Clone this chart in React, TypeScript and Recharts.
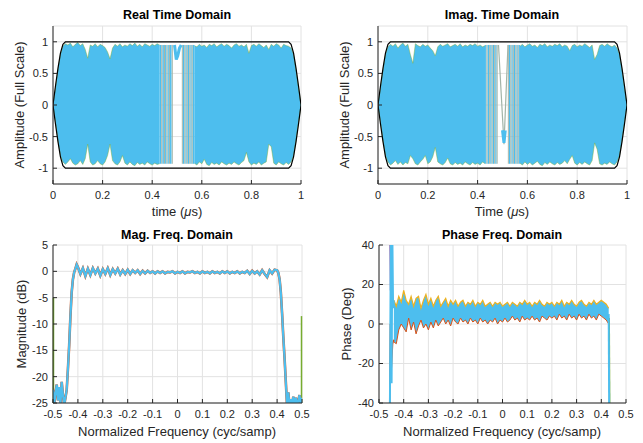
import React from 'react';
import { ComposedChart, Area, Line, XAxis, YAxis, CartesianGrid, ReferenceArea, ReferenceLine } from 'recharts';

const FONT = '"Liberation Sans", Arial, Helvetica, sans-serif';
const AX = '#262626';
const GRID = '#e2e2e2';
const BLUE = '#4DBEEE';
const ORANGE = '#D95319';
const YELLOW = '#EDB120';
const PURPLE = '#7E2F8E';
const GREEN = '#77AC30';
const STRIPE = '#a2b4a8';

// ---- time domain (µs) ----
const timeUs = [
  0, 0.01, 0.02, 0.03, 0.04, 0.05, 0.06, 0.07, 0.08, 0.09, 0.1, 0.11, 0.12, 0.13, 0.14, 0.15, 0.16, 0.17, 0.18, 0.19,
  0.2, 0.21, 0.22, 0.23, 0.24, 0.25, 0.26, 0.27, 0.28, 0.29, 0.3, 0.31, 0.32, 0.33, 0.34, 0.35, 0.36, 0.37, 0.38, 0.39,
  0.4, 0.41, 0.42, 0.43, 0.44, 0.45, 0.46, 0.47, 0.48, 0.49, 0.5, 0.51, 0.52, 0.53, 0.54, 0.55, 0.56, 0.57, 0.58, 0.59,
  0.6, 0.61, 0.62, 0.63, 0.64, 0.65, 0.66, 0.67, 0.68, 0.69, 0.7, 0.71, 0.72, 0.73, 0.74, 0.75, 0.76, 0.77, 0.78, 0.79,
  0.8, 0.81, 0.82, 0.83, 0.84, 0.85, 0.86, 0.87, 0.88, 0.89, 0.9, 0.91, 0.92, 0.93, 0.94, 0.95, 0.96, 0.97, 0.98, 0.99, 1,
];
const N = null;
const realHi = [
  0, 0.27, 0.55, 0.8, 0.93, 0.97, 0.95, 0.98, 0.92, 0.96, 0.99, 0.94, 0.97, 0.88, 0.74, 0.95, 0.93, 0.97, 0.92, 0.96,
  0.94, 0.91, 0.84, 0.73, 0.9, 0.96, 0.93, 0.97, 0.92, 0.95, 0.93, 0.97, 0.94, 0.98, 0.93, 0.96, 0.92, 0.97, 0.95, 0.93,
  0.96, 0.94, 0.97, 0.95, N, N, N, N, N, N, N, N, N, N, N, N, N, 0.94, 0.92, 0.96,
  0.93, 0.95, 0.91, 0.96, 0.94, 0.97, 0.92, 0.95, 0.97, 0.93, 0.96, 0.94, 0.9, 0.95, 0.97, 0.93, 0.95, 0.92, 0.96, 0.82,
  0.94, 0.96, 0.93, 0.97, 0.94, 0.91, 0.95, 0.88, 0.96, 0.93, 0.97, 0.95, 0.9, 0.96, 0.94, 0.93, 0.9, 0.8, 0.55, 0.27, 0,
];
const realLo = [
  0, -0.27, -0.55, -0.8, -0.9, -0.94, -0.9, -0.85, -0.92, -0.95, -0.93, -0.88, -0.94, -0.85, -0.62, -0.9, -0.95, -0.93, -0.88, -0.93,
  -0.95, -0.9, -0.8, -0.62, -0.88, -0.93, -0.95, -0.9, -0.8, -0.92, -0.95, -0.9, -0.94, -0.96, -0.91, -0.94, -0.92, -0.95, -0.9, -0.93,
  -0.95, -0.92, -0.94, -0.93, N, N, N, N, N, N, N, N, N, N, N, N, N, -0.92, -0.95, -0.9,
  -0.93, -0.86, -0.94, -0.96, -0.91, -0.94, -0.92, -0.95, -0.9, -0.93, -0.95, -0.92, -0.94, -0.9, -0.93, -0.95, -0.91, -0.88, -0.75, -0.9,
  -0.95, -0.92, -0.94, -0.9, -0.95, -0.92, -0.9, -0.62, -0.66, -0.92, -0.95, -0.9, -0.93, -0.95, -0.91, -0.94, -0.9, -0.8, -0.55, -0.27, 0,
];
const imagHi = [
  0, 0.27, 0.55, 0.8, 0.92, 0.96, 0.93, 0.97, 0.9, 0.95, 0.98, 0.93, 0.96, 0.8, 0.66, 0.97, 0.94, 0.92, 0.96, 0.93,
  0.95, 0.9, 0.86, 0.78, 0.92, 0.96, 0.93, 0.95, 0.97, 0.92, 0.94, 0.96, 0.93, 0.97, 0.92, 0.95, 0.93, 0.96, 0.94, 0.97,
  0.93, 0.95, 0.92, 0.94, N, N, N, N, N, N, N, N, N, N, N, N, N, 0.93, 0.96, 0.92,
  0.95, 0.97, 0.93, 0.95, 0.91, 0.96, 0.94, 0.97, 0.92, 0.95, 0.93, 0.96, 0.94, 0.97, 0.92, 0.95, 0.93, 0.86, 0.94, 0.96,
  0.92, 0.95, 0.93, 0.97, 0.94, 0.91, 0.95, 0.72, 0.8, 0.94, 0.96, 0.93, 0.97, 0.94, 0.92, 0.95, 0.9, 0.8, 0.55, 0.27, 0,
];
const imagLo = [
  0, -0.27, -0.55, -0.8, -0.9, -0.95, -0.92, -0.88, -0.94, -0.9, -0.95, -0.91, -0.93, -0.8, -0.85, -0.93, -0.95, -0.9, -0.86, -0.8,
  -0.93, -0.9, -0.82, -0.67, -0.9, -0.93, -0.95, -0.91, -0.84, -0.93, -0.95, -0.91, -0.94, -0.92, -0.95, -0.9, -0.93, -0.95, -0.91, -0.94,
  -0.92, -0.95, -0.9, -0.93, N, N, N, N, N, N, N, N, N, N, N, N, N, -0.92, -0.95, -0.9,
  -0.94, -0.91, -0.95, -0.92, -0.89, -0.94, -0.96, -0.91, -0.94, -0.9, -0.93, -0.95, -0.91, -0.94, -0.92, -0.88, -0.93, -0.86, -0.8, -0.92,
  -0.95, -0.91, -0.94, -0.9, -0.93, -0.95, -0.88, -0.6, -0.7, -0.93, -0.95, -0.92, -0.94, -0.9, -0.93, -0.95, -0.9, -0.8, -0.55, -0.27, 0,
];
// black full-scale envelope
const envT = [0, 0.01, 0.02, 0.03, 0.04, 0.05, 0.95, 0.96, 0.97, 0.98, 0.99, 1];
const envHi = [0, 0.3, 0.58, 0.82, 0.96, 1, 1, 0.96, 0.82, 0.58, 0.3, 0];
const envLo = [0, -0.3, -0.58, -0.82, -0.96, -1, -1, -0.96, -0.82, -0.58, -0.3, 0];
// blue strips and grey crossings inside the mid-burst gap
const realBands = [[0.43, 0.436], [0.441, 0.447], [0.452, 0.457], [0.462, 0.467], [0.472, 0.478], [0.524, 0.529], [0.534, 0.539], [0.544, 0.549], [0.554, 0.559], [0.563, 0.57]];
const realCross = [0.4385, 0.4495, 0.4595, 0.4695, 0.481, 0.5215, 0.5315, 0.5415, 0.5515, 0.561];
const realBlobT = [0.49, 0.497, 0.503, 0.51, 0.517];
const realBlobV = [0.95, 0.72, 0.78, 0.9, 0.95];
const imagBands = [[0.43, 0.435], [0.44, 0.446], [0.451, 0.456], [0.461, 0.466], [0.471, 0.476], [0.526, 0.531], [0.536, 0.541], [0.546, 0.551], [0.556, 0.561], [0.565, 0.57]];
const imagCross = [0.4375, 0.4485, 0.4585, 0.4685, 0.4785, 0.5235, 0.5335, 0.5435, 0.5535, 0.563];
const imagVeeT = [0.484, 0.506, 0.522];
const imagVeeV = [0.95, -0.62, 0.95];
const imagTipT = [0.5, 0.506, 0.511];
const imagTipV = [-0.4, -0.6, -0.4];
const timeTicks = [0, 0.2, 0.4, 0.6, 0.8, 1];
const ampTicks = [-1, -0.5, 0, 0.5, 1];

// ---- magnitude (dB) ----
const magF = [
  -0.5, -0.495, -0.49, -0.485, -0.48, -0.475, -0.47, -0.465, -0.46, -0.455, -0.45, -0.445, -0.44, -0.435, -0.43, -0.425, -0.42, -0.415, -0.41, -0.405,
  -0.4, -0.39, -0.38, -0.37, -0.36, -0.35, -0.34, -0.33, -0.32, -0.31, -0.3, -0.29, -0.28, -0.27, -0.26, -0.25, -0.24, -0.23, -0.22, -0.21,
  -0.2, -0.19, -0.18, -0.17, -0.16, -0.15, -0.14, -0.13, -0.12, -0.11, -0.1, -0.09, -0.08, -0.07, -0.06, -0.05, -0.04, -0.03, -0.02, -0.01,
  0, 0.01, 0.02, 0.03, 0.04, 0.05, 0.06, 0.07, 0.08, 0.09, 0.1, 0.11, 0.12, 0.13, 0.14, 0.15, 0.16, 0.17, 0.18, 0.19,
  0.2, 0.21, 0.22, 0.23, 0.24, 0.25, 0.26, 0.27, 0.28, 0.29, 0.3, 0.31, 0.32, 0.33, 0.34, 0.35, 0.36, 0.37, 0.38, 0.39,
  0.4, 0.405, 0.41, 0.415, 0.42, 0.425, 0.43, 0.435, 0.44, 0.445, 0.45, 0.455, 0.46, 0.465, 0.47, 0.475, 0.48, 0.485, 0.49, 0.495, 0.5,
];
const magDb = [
  -22.5, -25.4, -23, -21.5, -24.5, -22, -25.3, -21, -23.5, -25.4, -24, -22.5, -18.5, -14, -8.5, -4, -1.5, -0.2, 0.5, 1.3,
  0.8, -0.5, 0.6, -0.9, 0.5, -0.7, 0.6, -0.4, 0.5, -0.8, 0.4, -0.5, 0.6, -0.7, 0.4, -0.4, 0.5, -0.6, 0.2, -0.5,
  0.3, -0.5, 0.2, -0.3, 0.2, -0.5, 0.1, -0.4, 0.1, -0.3, 0.0, -0.4, 0.0, -0.3, 0.0, -0.4, -0.1, -0.2, 0.0, -0.4,
  -0.1, -0.3, 0.0, -0.4, -0.1, -0.2, 0.0, -0.3, -0.1, -0.4, 0.0, -0.3, -0.1, -0.4, 0.0, -0.3, -0.1, -0.4, 0.0, -0.3,
  0.0, -0.4, -0.1, -0.3, 0.0, -0.4, -0.1, -0.3, 0.1, -0.5, 0.1, -0.4, 0.0, -0.6, 0.2, -0.5, -1.1, 0.2, -0.4, 0.3,
  0.2, -0.3, -1.5, -4, -8, -12.5, -16.5, -21, -25.5, -23, -25.5, -24.3, -25.4, -23.8, -25.5, -24, -25.4, -24.6, -23.5, -25.5, -24,
];
const magEdgeF = [-0.498, 0.498];
const magEdgeTop = [-5, -8.5];
const freqTicks = [-0.5, -0.4, -0.3, -0.2, -0.1, 0, 0.1, 0.2, 0.3, 0.4, 0.5];
const magTicks = [-25, -20, -15, -10, -5, 0, 5];

// ---- phase (deg) ----
const phF = [
  -0.44, -0.43, -0.42, -0.41, -0.4, -0.39, -0.38, -0.37, -0.36, -0.35, -0.34, -0.33, -0.32, -0.31, -0.3, -0.29, -0.28, -0.27, -0.26, -0.25,
  -0.24, -0.23, -0.22, -0.21, -0.2, -0.19, -0.18, -0.17, -0.16, -0.15, -0.14, -0.13, -0.12, -0.11, -0.1, -0.09, -0.08, -0.07, -0.06, -0.05,
  -0.04, -0.03, -0.02, -0.01, 0, 0.01, 0.02, 0.03, 0.04, 0.05, 0.06, 0.07, 0.08, 0.09, 0.1, 0.11, 0.12, 0.13, 0.14, 0.15,
  0.16, 0.17, 0.18, 0.19, 0.2, 0.21, 0.22, 0.23, 0.24, 0.25, 0.26, 0.27, 0.28, 0.29, 0.3, 0.31, 0.32, 0.33, 0.34, 0.35,
  0.36, 0.37, 0.38, 0.39, 0.4, 0.41, 0.42, 0.43,
];
const phHi = [
  12, 9, 14, 11, 17, 12, 10, 14, 9, 13, 14, 8, 12, 15, 10, 13, 9, 12, 14, 9,
  11, 13, 9, 12, 10, 12, 9, 11, 12, 9, 11, 10, 12, 9, 11, 10, 12, 9, 10, 11,
  9, 11, 10, 11, 9, 10, 11, 9, 11, 10, 9, 11, 10, 12, 10, 11, 9, 11, 10, 12,
  10, 9, 11, 10, 11, 9, 11, 10, 12, 9, 11, 10, 12, 10, 9, 11, 12, 10, 9, 11,
  10, 12, 10, 11, 12, 11, 10, 8,
];
const phLo = [
  -9, -10, -3, 0, -2, -4, 3, -3, 1, -5, -1, 2, -2, 0, -3, 1, -2, 2, -1, 1,
  3, 0, 2, -1, 3, 1, 0, 3, 1, 2, 0, 3, 1, 2, 0, 3, 1, 2, 0, 2,
  1, 3, 0, 2, 1, 3, 1, 2, 4, 2, 3, 1, 4, 2, 3, 2, 4, 2, 3, 1,
  4, 3, 2, 4, 3, 4, 2, 5, 3, 4, 2, 5, 3, 4, 2, 5, 3, 4, 2, 5,
  3, 4, 2, 5, 4, 3, 2, 0,
];
const spikeBlueF = [-0.456, -0.452, -0.449, -0.446, -0.443, -0.44];
const spikeBlueV = [-45, 45, -30, 45, 8, 12];
const spikePurpleF = [-0.455, -0.453, -0.45];
const spikePurpleV = [45, 17, 40];
const spikeOrangeF = [-0.457, -0.454, -0.45, -0.445, -0.44];
const spikeOrangeV = [-45, 0, -22, -10, -8];
const dropBlueF = [0.43, 0.432];
const dropBlueV = [5, -45];
const dropGreenF = [0.432, 0.434];
const dropGreenV = [3, -45];
const phaseTicks = [-40, -20, 0, 20, 40];

type Series = { key: string; xs: number[]; ys: any[] };
function mergeRows(xKey: string, series: Series[]) {
  const map = new Map<number, any>();
  series.forEach((s) =>
    s.xs.forEach((x, i) => {
      if (!map.has(x)) map.set(x, { [xKey]: x });
      map.get(x)[s.key] = s.ys[i];
    })
  );
  return [...map.values()].sort((a, b) => a[xKey] - b[xKey]);
}

const pairs = (lo: (number | null)[], hi: (number | null)[]) => lo.map((v, i) => (v === null || hi[i] === null ? null : [v, hi[i]]));

const realRows = mergeRows('t', [
  { key: 'fill', xs: timeUs, ys: pairs(realLo, realHi) },
  { key: 'envHi', xs: envT, ys: envHi },
  { key: 'envLo', xs: envT, ys: envLo },
  { key: 'blob', xs: realBlobT, ys: realBlobV },
]);
const imagRows = mergeRows('t', [
  { key: 'fill', xs: timeUs, ys: pairs(imagLo, imagHi) },
  { key: 'envHi', xs: envT, ys: envHi },
  { key: 'envLo', xs: envT, ys: envLo },
  { key: 'vee', xs: imagVeeT, ys: imagVeeV },
  { key: 'tip', xs: imagTipT, ys: imagTipV },
]);
const magRows = magF.map((f, i) => ({ f, db: magDb[i] }));
const phaseRows = mergeRows('f', [
  { key: 'band', xs: phF, ys: pairs(phLo, phHi) },
  { key: 'hi', xs: phF, ys: phHi },
  { key: 'lo', xs: phF, ys: phLo },
  { key: 'sb', xs: spikeBlueF, ys: spikeBlueV },
  { key: 'sp', xs: spikePurpleF, ys: spikePurpleV },
  { key: 'so', xs: spikeOrangeF, ys: spikeOrangeV },
  { key: 'db', xs: dropBlueF, ys: dropBlueV },
  { key: 'dg', xs: dropGreenF, ys: dropGreenV },
]);

const tickStyle = { fontSize: 11, fill: AX, fontFamily: FONT };

// MATLAB-like boxed axes with inward ticks on all four sides
const axes = (xKey: string, xDomain: number[], xTicks: number[], yDomain: number[], yTicks: number[]) => [
  <CartesianGrid key="grid" stroke={GRID} strokeWidth={1} />,
  <XAxis key="xb" dataKey={xKey} type="number" domain={xDomain} ticks={xTicks} interval={0} allowDataOverflow
    tick={tickStyle} tickSize={-4} tickMargin={11} height={20} axisLine={{ stroke: AX }} tickLine={{ stroke: AX }} />,
  <XAxis key="xt" xAxisId="top" orientation="top" type="number" domain={xDomain} ticks={xTicks} interval={0} allowDataOverflow
    tickFormatter={() => ''} tickSize={-4} height={0} axisLine={{ stroke: AX }} tickLine={{ stroke: AX }} />,
  <YAxis key="yl" type="number" domain={yDomain} ticks={yTicks} interval={0} allowDataOverflow
    tick={tickStyle} tickSize={-4} tickMargin={9} width={45} axisLine={{ stroke: AX }} tickLine={{ stroke: AX }} />,
  <YAxis key="yr" yAxisId="right" orientation="right" type="number" domain={yDomain} ticks={yTicks} interval={0} allowDataOverflow
    tickFormatter={() => ''} tickSize={-4} width={0} axisLine={{ stroke: AX }} tickLine={{ stroke: AX }} />,
];

function Txt({ x, y, children, bold, rotate }: { x: number; y: number; children: React.ReactNode; bold?: boolean; rotate?: boolean }) {
  return (
    <div
      style={{
        position: 'absolute', left: x, top: y, whiteSpace: 'nowrap', fontFamily: FONT,
        fontSize: bold ? 12.5 : 13, fontWeight: bold ? 700 : 400, color: bold ? '#000' : AX, lineHeight: 1,
        transform: `translate(-50%, -50%)${rotate ? ' rotate(-90deg)' : ''}`,
      }}
    >
      {children}
    </div>
  );
}

function TimeChart({ rows, bands, cross, margin, extra }: any) {
  return (
    <ComposedChart width={margin.w} height={220} data={rows} margin={{ top: 26, right: margin.right, bottom: 16, left: margin.left }}>
      {axes('t', [0, 1], timeTicks, [-1.25, 1.25], ampTicks)}
      <Area dataKey="fill" type="linear" stroke={GREEN} strokeOpacity={0.55} strokeWidth={0.8} fill={BLUE} fillOpacity={1} isAnimationActive={false} />
      {bands.map((b: number[], i: number) => (
        <ReferenceArea key={'b' + i} x1={b[0]} x2={b[1]} y1={-0.93} y2={0.95} fill={BLUE} fillOpacity={1} stroke="none" />
      ))}
      {cross.map((c: number, i: number) => (
        <ReferenceLine key={'c' + i} segment={[{ x: c, y: -0.93 }, { x: c, y: 0.95 }]} stroke={STRIPE} strokeWidth={1} />
      ))}
      {extra}
      <Line dataKey="envHi" type="linear" stroke="#000" strokeWidth={1.2} dot={false} connectNulls isAnimationActive={false} />
      <Line dataKey="envLo" type="linear" stroke="#000" strokeWidth={1.2} dot={false} connectNulls isAnimationActive={false} />
    </ComposedChart>
  );
}

export default function App() {
  return (
    <div style={{ position: 'absolute', left: 0, top: 0, width: 643, height: 443, background: '#fff', overflow: 'hidden' }}>
      <div style={{ position: 'absolute', left: 0, top: 0 }}>
        <TimeChart rows={realRows} bands={realBands} cross={realCross} margin={{ w: 320, left: 8, right: 19 }}
          extra={<Line dataKey="blob" type="linear" stroke={BLUE} strokeWidth={3} dot={false} connectNulls isAnimationActive={false} />} />
      </div>
      <div style={{ position: 'absolute', left: 320, top: 0 }}>
        <TimeChart rows={imagRows} bands={imagBands} cross={imagCross} margin={{ w: 323, left: 13, right: 16 }}
          extra={[
            <Line key="v" dataKey="vee" type="linear" stroke={STRIPE} strokeWidth={1.2} dot={false} connectNulls isAnimationActive={false} />,
            <Line key="tp" dataKey="tip" type="linear" stroke={BLUE} strokeWidth={3} dot={false} connectNulls isAnimationActive={false} />,
          ]} />
      </div>
      <div style={{ position: 'absolute', left: 0, top: 220 }}>
        <ComposedChart width={320} height={223} data={magRows} margin={{ top: 25, right: 18, bottom: 20, left: 8 }}>
          {axes('f', [-0.5, 0.5], freqTicks, [-25, 5], magTicks)}
          {magEdgeF.map((f, i) => (
            <ReferenceLine key={'e' + i} segment={[{ x: f, y: -25 }, { x: f, y: magEdgeTop[i] }]} stroke={GREEN} strokeWidth={1.5} />
          ))}
          <Line dataKey="db" type="linear" stroke={ORANGE} strokeWidth={2.6} dot={false} isAnimationActive={false} />
          <Line dataKey="db" type="linear" stroke={BLUE} strokeWidth={2.2} dot={false} isAnimationActive={false} />
        </ComposedChart>
      </div>
      <div style={{ position: 'absolute', left: 320, top: 220 }}>
        <ComposedChart width={323} height={223} data={phaseRows} margin={{ top: 25, right: 17, bottom: 20, left: 14 }}>
          {axes('f', [-0.5, 0.5], freqTicks, [-40, 40], phaseTicks)}
          <Line dataKey="hi" type="linear" stroke={YELLOW} strokeWidth={1.2} dot={false} connectNulls isAnimationActive={false} />
          <Line dataKey="lo" type="linear" stroke={ORANGE} strokeWidth={1} dot={false} connectNulls isAnimationActive={false} />
          <Area dataKey="band" type="linear" stroke="none" fill={BLUE} fillOpacity={1} connectNulls isAnimationActive={false} />
          <Line dataKey="so" type="linear" stroke={ORANGE} strokeWidth={1.5} dot={false} connectNulls isAnimationActive={false} />
          <Line dataKey="sp" type="linear" stroke={PURPLE} strokeWidth={1.5} dot={false} connectNulls isAnimationActive={false} />
          <Line dataKey="sb" type="linear" stroke={BLUE} strokeWidth={2} dot={false} connectNulls isAnimationActive={false} />
          <Line dataKey="dg" type="linear" stroke={GREEN} strokeWidth={1.5} dot={false} connectNulls isAnimationActive={false} />
          <Line dataKey="db" type="linear" stroke={BLUE} strokeWidth={2} dot={false} connectNulls isAnimationActive={false} />
        </ComposedChart>
      </div>

      <Txt x={177} y={15} bold>Real Time Domain</Txt>
      <Txt x={502} y={15} bold>Imag. Time Domain</Txt>
      <Txt x={177} y={235} bold>Mag. Freq. Domain</Txt>
      <Txt x={502} y={235} bold>Phase Freq. Domain</Txt>

      <Txt x={177} y={211}>time (<i>μ</i>s)</Txt>
      <Txt x={502} y={211}>Time (<i>μ</i>s)</Txt>
      <Txt x={177} y={431}>Normalized Frequency (cyc/samp)</Txt>
      <Txt x={502} y={431}>Normalized Frequency (cyc/samp)</Txt>

      <Txt x={19} y={105} rotate>Amplitude (Full Scale)</Txt>
      <Txt x={344} y={105} rotate>Amplitude (Full Scale)</Txt>
      <Txt x={21} y={324} rotate>Magnitude (dB)</Txt>
      <Txt x={346} y={324} rotate>Phase (Deg)</Txt>
    </div>
  );
}
